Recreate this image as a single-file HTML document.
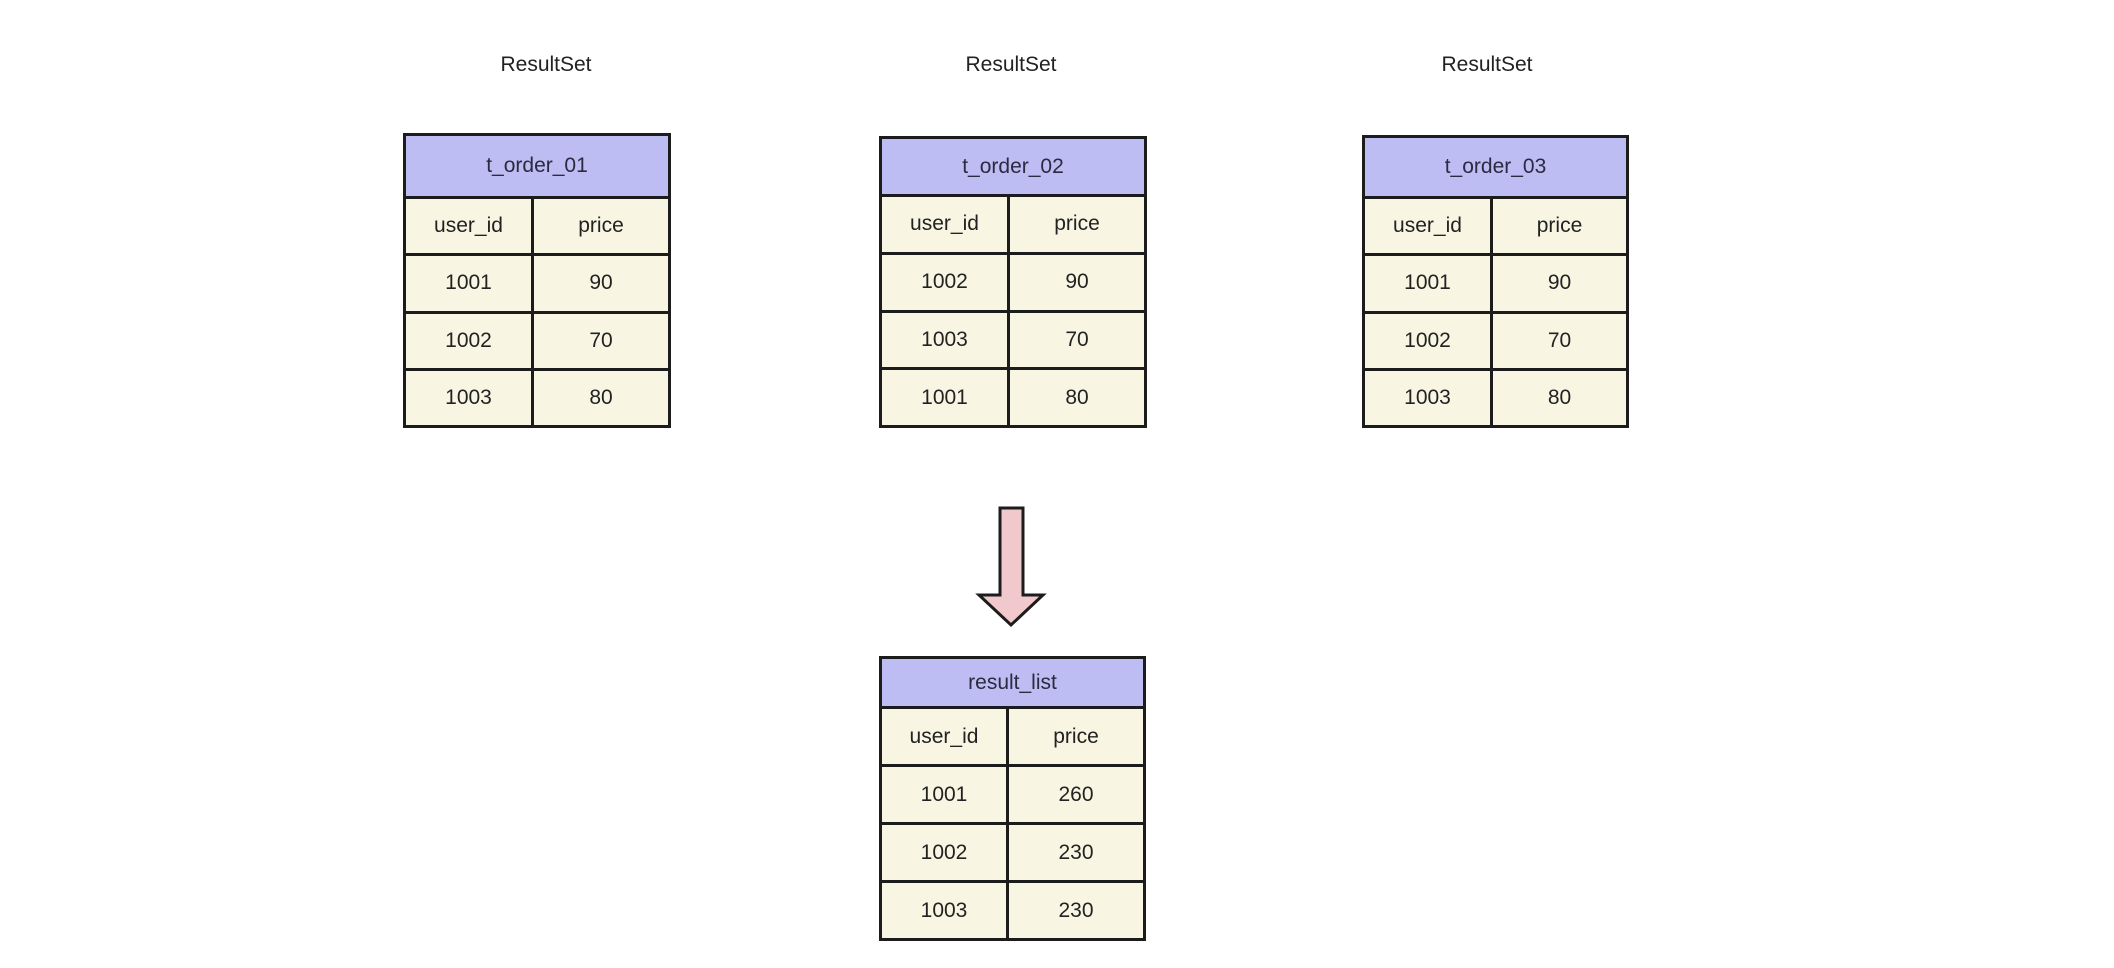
<!DOCTYPE html>
<html><head><meta charset="utf-8"><style>
body{margin:0;width:2114px;height:968px;background:#fff;position:relative;overflow:hidden;font-family:"Liberation Sans",Arial,sans-serif;color:#222}
.lbl{position:absolute;font-size:21px;transform:translateX(-50%);top:53px}
.tbl{position:absolute;border-collapse:collapse;font-size:21px}
.tbl td{border:3px solid #1c1c1c;text-align:center;background:#f8f6e3;padding:0}
.tbl td.h{background:#bdbdf3;color:#2a2a40}
</style></head><body>
<div class="lbl" style="left:546px">ResultSet</div>
<div class="lbl" style="left:1011px">ResultSet</div>
<div class="lbl" style="left:1487px">ResultSet</div>

<table class="tbl" style="left:403px;top:133px;width:268px;height:295px">
<tr style="height:63px"><td class="h" colspan="2">t_order_01</td></tr>
<tr><td style="width:125px">user_id</td><td>price</td></tr>
<tr><td>1001</td><td>90</td></tr>
<tr><td>1002</td><td>70</td></tr>
<tr><td>1003</td><td>80</td></tr>
</table>

<table class="tbl" style="left:879px;top:136px;width:268px;height:292px">
<tr style="height:58px"><td class="h" colspan="2">t_order_02</td></tr>
<tr><td style="width:125px">user_id</td><td>price</td></tr>
<tr><td>1002</td><td>90</td></tr>
<tr><td>1003</td><td>70</td></tr>
<tr><td>1001</td><td>80</td></tr>
</table>

<table class="tbl" style="left:1362px;top:135px;width:267px;height:293px">
<tr style="height:61px"><td class="h" colspan="2">t_order_03</td></tr>
<tr><td style="width:125px">user_id</td><td>price</td></tr>
<tr><td>1001</td><td>90</td></tr>
<tr><td>1002</td><td>70</td></tr>
<tr><td>1003</td><td>80</td></tr>
</table>

<svg style="position:absolute;left:0;top:0" width="2114" height="968">
<polygon points="1000,508 1023,508 1023,595 1043,595 1011,625 979,595 1000,595" fill="#f1c9cc" stroke="#1c1c1c" stroke-width="3" stroke-linejoin="miter"/>
</svg>

<table class="tbl" style="left:879px;top:656px;width:267px;height:285px">
<tr style="height:50px"><td class="h" colspan="2">result_list</td></tr>
<tr><td style="width:124px">user_id</td><td>price</td></tr>
<tr><td>1001</td><td>260</td></tr>
<tr><td>1002</td><td>230</td></tr>
<tr><td>1003</td><td>230</td></tr>
</table>
</body></html>
